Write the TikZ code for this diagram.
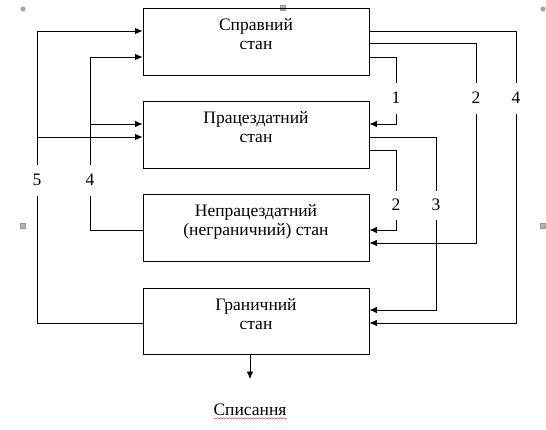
\documentclass[tikz,border=0pt]{standalone}
\usepackage{fontspec}
\setmainfont{Liberation Serif}
\usetikzlibrary{arrows.meta,decorations.pathmorphing}
\begin{document}
\begin{tikzpicture}[x=1pt,y=-1pt,
  box/.style={draw, line width=0.8pt, minimum width=226pt, inner sep=0pt},
  txt/.style={align=center, font=\fontsize{17.5}{19.5}\selectfont, anchor=north, inner sep=0pt},
  lbl/.style={fill=white, font=\fontsize{17.5}{19.5}\selectfont, inner xsep=1pt, minimum height=31pt},
  arr/.style={line width=0.8pt, -{Latex[length=7.5pt,width=6.5pt]}},
  hcirc/.style={fill=gray!70, draw=none},
  hsq/.style={fill=gray!60, draw=gray!80, line width=0.3pt}]
\useasboundingbox (0,0) rectangle (546,429);
% handles
\fill[hcirc] (23,9) circle (2.6pt);
\fill[hcirc] (543,9) circle (2.6pt);
\filldraw[hsq] (280.5,5.5) rectangle (285.5,10.5);
\filldraw[hsq] (20.5,223.5) rectangle (25.5,228.5);
\filldraw[hsq] (540.5,223.5) rectangle (545.5,228.5);
% boxes
\node[box, minimum height=67pt] (b1) at (256,41.5) {};
\node[box, minimum height=67pt] (b2) at (256,134.5) {};
\node[box, minimum height=67pt] (b3) at (256,227.5) {};
\node[box, minimum height=66pt] (b4) at (256,321) {};
\node[txt] (t1) at ([yshift=-10.5pt]b1.north) {Справний\\стан};
\node[txt] (t2) at ([yshift=-10.5pt]b2.north) {Працездатний\\стан};
\node[txt] (t3) at ([yshift=-10.5pt]b3.north) {Непрацездатний\\(неграничний) стан};
\node[txt] (t4) at ([yshift=-10.5pt]b4.north) {Граничний\\стан};
% ports
\coordinate (b1wu) at ([yshift=10.5pt]b1.west);
\coordinate (b1wl) at ([yshift=-15.5pt]b1.west);
\coordinate (b1eu) at ([yshift=10.5pt]b1.east);
\coordinate (b1em) at ([yshift=-1.5pt]b1.east);
\coordinate (b1el) at ([yshift=-15.5pt]b1.east);
\coordinate (b2wu) at ([yshift=10.5pt]b2.west);
\coordinate (b2wm) at ([yshift=-2.5pt]b2.west);
\coordinate (b2eu) at ([yshift=10.5pt]b2.east);
\coordinate (b2em) at ([yshift=-2.5pt]b2.east);
\coordinate (b2el) at ([yshift=-15.5pt]b2.east);
\coordinate (b3wm) at ([yshift=-2.5pt]b3.west);
\coordinate (b3em) at ([yshift=-2.5pt]b3.east);
\coordinate (b3el) at ([yshift=-15.5pt]b3.east);
\coordinate (b4wm) at ([yshift=-2pt]b4.west);
\coordinate (b4eu) at ([yshift=11pt]b4.east);
\coordinate (b4em) at ([yshift=-2pt]b4.east);
% lanes
\coordinate (L5) at (37,0);
\coordinate (L4) at (90,0);
\coordinate (R1) at (396,0);
\coordinate (R3) at (436,0);
\coordinate (R2) at (476,0);
\coordinate (R4) at (516,0);
% left connectors
\draw[arr] (b4wm) -- (L5 |- b4wm) -- (L5 |- b1wu) -- (b1wu);
\draw[arr] (L5 |- b2wm) -- (b2wm);
\draw[arr] (b3wm) -- (L4 |- b3wm) -- (L4 |- b1wl) -- (b1wl);
\draw[arr] (L4 |- b2wu) -- (b2wu);
% right connectors
\draw[arr] (b1el) -- (R1 |- b1el) -- (R1 |- b2eu) -- (b2eu);
\draw[arr] (b1em) -- (R2 |- b1em) -- (R2 |- b3el) -- (b3el);
\draw[arr] (b1eu) -- (R4 |- b1eu) -- (R4 |- b4em) -- (b4em);
\draw[arr] (b2el) -- (R1 |- b2el) -- (R1 |- b3em) -- (b3em);
\draw[arr] (b2em) -- (R3 |- b2em) -- (R3 |- b4eu) -- (b4eu);
% labels
\node[lbl] (n5) at (37,180) {5};
\node[lbl] (n4l) at (90,180) {4};
\node[lbl] (n1) at (396,98) {1};
\node[lbl] (n2a) at (476,98) {2};
\node[lbl] (n4r) at (516,98) {4};
\node[lbl, minimum height=29pt] (n2b) at (396,205) {2};
\node[lbl, minimum height=29pt] (n3) at (436,205) {3};
% write-off
\node[txt, anchor=base] (sp) at (250,415) {Списання};
\coordinate (spend) at (250,379);
\draw[arr] (b4.south -| spend) -- (spend);
\draw[red!80, line width=0.5pt, decorate, decoration={snake, amplitude=0.7pt, segment length=3pt}] ([yshift=-3pt]sp.south west) -- ([yshift=-3pt]sp.south east);
\end{tikzpicture}
\end{document}
